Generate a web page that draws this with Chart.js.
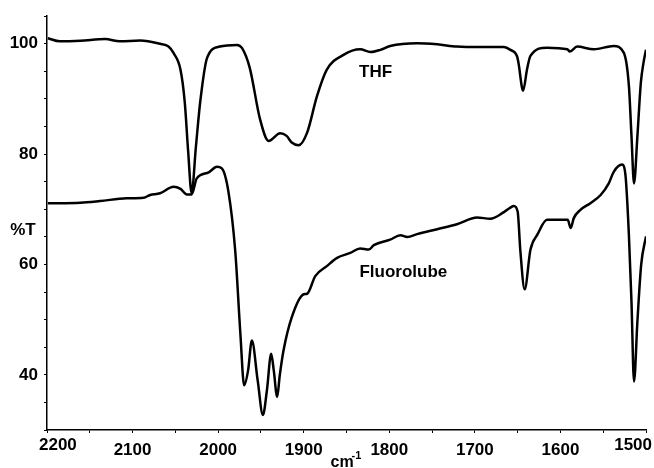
<!DOCTYPE html>
<html>
<head>
<meta charset="utf-8">
<script src="https://cdn.jsdelivr.net/npm/chart.js@4/dist/chart.umd.min.js"></script>
<style>
  body { margin: 0; background: #fff; }
  #wrap { width: 654px; height: 468px; position: relative; }
</style>
</head>
<body>
<div id="wrap"><canvas id="irChart"></canvas></div>
<script>
// wavenumbers (cm-1) and %T
const thfWn = [2199, 2185, 2161, 2132, 2115, 2091, 2068, 2058, 2052, 2044, 2039, 2035, 2031, 2026, 2021, 2013,
  1998, 1978, 1972, 1963, 1951, 1941, 1927.5, 1920, 1914, 1906, 1896, 1884.5, 1873, 1853.5, 1834, 1822,
  1810.5, 1799, 1767.6, 1744, 1721, 1693.6, 1666, 1658.5, 1650.6, 1649, 1643.6, 1639, 1635, 1615.6, 1592,
  1589, 1580.5, 1561, 1537.7, 1526, 1520, 1517, 1514, 1510, 1506, 1503, 1500];
const thfT = [101.0, 100.45, 100.55, 100.86, 100.45, 100.6, 100.0, 99.5, 98.3, 95.3, 89.4, 80.4, 72.9, 81.3, 89.4, 97.4,
  99.5, 99.8, 99.2, 95.6, 86.3, 82.4, 83.8, 83.3, 82.1, 81.6, 83.9, 90.5, 95.3, 98.0, 99.0, 98.5,
  98.9, 99.6, 100.1, 99.9, 99.5, 99.4, 99.4, 98.9, 97.7, 96.5, 91.5, 95.4, 97.8, 99.3, 99.0,
  98.6, 99.5, 99.0, 99.6, 98.4, 92.4, 83.4, 74.7, 83.4, 93.0, 96.5, 98.9];

const fluoroWn = [2199, 2161, 2138, 2107, 2087, 2079.5, 2068, 2052, 2044, 2036.6, 2031, 2025, 2011, 2001.5, 1995.7,
  1988, 1980, 1974, 1969.6, 1965, 1960.6, 1953.8, 1947.7, 1943, 1938, 1935, 1931, 1928, 1923.6, 1914, 1900,
  1896, 1886.5, 1873, 1861, 1845.6, 1834, 1824, 1818, 1799, 1787, 1779, 1767.6, 1744, 1721, 1697.4, 1682,
  1666, 1658.5, 1654.6, 1650, 1646.8, 1641.8, 1635, 1627, 1615.6, 1600, 1591.5, 1588, 1584.4, 1576.6, 1565,
  1553, 1543.5, 1537.7, 1528, 1524, 1520, 1517, 1514, 1510, 1505.6, 1500];
const fluoroT = [71.1, 71.2, 71.5, 72.0, 72.1, 72.6, 72.9, 74.1, 73.7, 72.7, 72.7, 75.6, 76.7, 77.7, 77.4,
  73.2, 62.4, 47.4, 38.1, 40.8, 46.2, 39.0, 32.7, 37.2, 43.8, 40.8, 36.0, 39.9, 44.4, 50.4, 54.6,
  54.7, 57.9, 59.7, 61.2, 62.1, 62.9, 62.7, 63.5, 64.5, 65.3, 65.0, 65.5, 66.4, 67.3, 68.5, 68.3,
  69.5, 70.3, 70.6, 69.6, 62.4, 55.5, 62.7, 65.4, 68.1, 68.1, 68.1, 66.6, 68.4, 69.9, 71.1,
  72.6, 74.7, 76.8, 78.1, 76.2, 65.4, 53.4, 38.8, 49.8, 60.0, 65.1];

const xLabels = [2200, 2100, 2000, 1900, 1800, 1700, 1600, 1500];
const yLabels = [100, 80, 60, 40];

const seriesNames = ['THF', 'Fluorolube'];
const namePos = [[1816, 94.9], [1783.6, 58.5]];

function pairs(xs, ys) {
  return xs.map((x, i) => ({ x: x, y: ys[i] }));
}

Chart.defaults.font.family = '"Liberation Sans", Arial, sans-serif';
Chart.defaults.font.weight = 'bold';
Chart.defaults.color = '#000';

const XMIN = 1500, XMAX = 2200;

// labels that are not normal tick labels: curve names, %T, cm-1, and the two end labels of x
const textPlugin = {
  id: 'texts',
  afterDraw(chart) {
    const ctx = chart.ctx;
    const xs = chart.scales.x, ys = chart.scales.y;
    ctx.save();
    ctx.fillStyle = '#000';
    ctx.font = 'bold 17px "Liberation Sans", Arial, sans-serif';
    ctx.textAlign = 'center';
    ctx.textBaseline = 'middle';
    seriesNames.forEach((n, i) => {
      ctx.fillText(n, xs.getPixelForValue(namePos[i][0]), ys.getPixelForValue(namePos[i][1]));
    });
    ctx.fillText('%T', 23, 230);

    // end labels, kept inside the picture like the original
    const labY = xs.top + 15;
    ctx.textAlign = 'left';
    ctx.fillText(String(XMAX), xs.getPixelForValue(XMAX) - 8, labY);
    ctx.textAlign = 'right';
    ctx.fillText(String(XMIN), xs.getPixelForValue(XMIN) + 6, labY);

    const mid = (chart.chartArea.left + chart.chartArea.right) / 2;
    ctx.textAlign = 'left';
    ctx.textBaseline = 'alphabetic';
    ctx.font = 'bold 16px "Liberation Sans", Arial, sans-serif';
    ctx.fillText('cm', mid - 16, 467);
    ctx.font = 'bold 11px "Liberation Sans", Arial, sans-serif';
    ctx.fillText('-1', mid + 5, 459);
    ctx.restore();
  }
};

const ctx = document.getElementById('irChart');
const irChart = new Chart(ctx, {
  type: 'line',
  data: {
    datasets: [{
      label: seriesNames[0],
      data: pairs(thfWn, thfT),
      borderColor: '#000',
      borderWidth: 2.5,
      pointRadius: 0,
      cubicInterpolationMode: 'monotone',
      fill: false
    }, {
      label: seriesNames[1],
      data: pairs(fluoroWn, fluoroT),
      borderColor: '#000',
      borderWidth: 2.5,
      pointRadius: 0,
      cubicInterpolationMode: 'monotone',
      fill: false
    }]
  },
  options: {
    responsive: true,
    maintainAspectRatio: false,
    animation: false,
    layout: { padding: { top: 13, right: 8, left: 0, bottom: 0 } },
    plugins: { legend: { display: false }, tooltip: { enabled: false } },
    scales: {
      x: {
        type: 'linear',
        reverse: true,
        min: XMIN,
        max: XMAX,
        afterFit(scale) { scale.height = 38; },
        border: { display: true, color: '#000', width: 1.5 },
        grid: { drawOnChartArea: false, drawTicks: true, tickLength: 3, color: '#000', lineWidth: 1 },
        ticks: {
          stepSize: 50,
          autoSkip: false,
          maxRotation: 0,
          padding: 7,
          font: { size: 17, weight: 'bold' },
          callback: v => (xLabels.includes(v) && v !== XMIN && v !== XMAX) ? String(v) : ''
        }
      },
      y: {
        min: 30,
        max: 105,
        afterFit(scale) { scale.width = 47; },
        border: { display: true, color: '#000', width: 1.5 },
        grid: { drawOnChartArea: false, drawTicks: true, tickLength: 3, color: '#000', lineWidth: 1 },
        ticks: {
          stepSize: 5,
          autoSkip: false,
          padding: 6,
          font: { size: 17, weight: 'bold' },
          callback: v => yLabels.includes(v) ? String(v) : ''
        }
      }
    }
  },
  plugins: [textPlugin]
});
</script>
</body>
</html>
